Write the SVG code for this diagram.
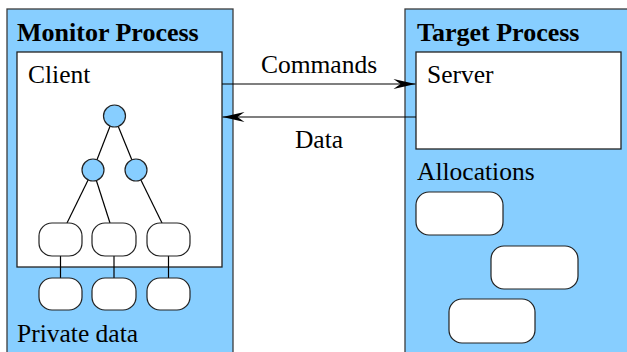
<svg xmlns="http://www.w3.org/2000/svg" width="627" height="352" viewBox="0 0 627 352">
<defs>
<style>
.panel{fill:#87CEFF;stroke:#3c3c3c;stroke-width:1.3}
.box{fill:#fff;stroke:#222;stroke-width:1.3}
.leaf{fill:#fff;stroke:#222;stroke-width:1.2}
.dot{fill:#87CEFF;stroke:#222;stroke-width:1.2}
.edge{stroke:#000;stroke-width:1.2;fill:none}
.title{font-family:"Liberation Serif","Times New Roman",serif;font-weight:bold;font-size:26px;fill:#000}
.lbl{font-family:"Liberation Serif","Times New Roman",serif;font-size:25.5px;fill:#000}
</style>
<marker id="ah" viewBox="-23 -6 24 12" refX="0" refY="0" markerWidth="24" markerHeight="12" markerUnits="userSpaceOnUse" orient="auto">
<path d="M0,0 L-22,-5 L-15,0 L-22,5 Z" fill="#000"/>
</marker>
</defs>

<g id="monitor-process">
<rect class="panel" x="7" y="9" width="226" height="360"/>
<text class="title" x="17" y="41">Monitor Process</text>
<text class="lbl" x="17" y="342">Private data</text>
</g>

<g id="client">
<rect class="box" x="17" y="52" width="205" height="215"/>
<text class="lbl" x="28" y="83">Client</text>
</g>

<g id="tree-edges">
<line class="edge" x1="114" y1="116" x2="93" y2="170"/>
<line class="edge" x1="114" y1="116" x2="136" y2="170"/>
<line class="edge" x1="93" y1="170" x2="67" y2="223"/>
<line class="edge" x1="93" y1="170" x2="110" y2="223"/>
<line class="edge" x1="136" y1="170" x2="162" y2="223"/>
<line class="edge" x1="60.5" y1="256" x2="60.5" y2="278"/>
<line class="edge" x1="114" y1="256" x2="114" y2="278"/>
<line class="edge" x1="168.5" y1="256" x2="168.5" y2="278"/>
</g>

<g id="tree-root"><circle class="dot" cx="114.5" cy="116" r="11"/></g>
<g id="tree-mid-left"><circle class="dot" cx="93" cy="170" r="11"/></g>
<g id="tree-mid-right"><circle class="dot" cx="136" cy="170" r="11"/></g>
<g id="leaf-1"><rect class="leaf" x="39" y="223" width="43" height="33" rx="13"/></g>
<g id="leaf-2"><rect class="leaf" x="92" y="223" width="44" height="33" rx="13"/></g>
<g id="leaf-3"><rect class="leaf" x="147" y="223" width="43" height="33" rx="13"/></g>
<g id="private-1"><rect class="leaf" x="39" y="278" width="43" height="32" rx="13"/></g>
<g id="private-2"><rect class="leaf" x="92" y="278" width="44" height="32" rx="13"/></g>
<g id="private-3"><rect class="leaf" x="147" y="278" width="43" height="32" rx="13"/></g>

<g id="target-process">
<rect class="panel" x="405" y="9" width="240" height="360"/>
<text class="title" x="417" y="41">Target Process</text>
<text class="lbl" x="417" y="180">Allocations</text>
</g>

<g id="server">
<rect class="box" x="416" y="52" width="205" height="97"/>
<text class="lbl" x="427" y="83">Server</text>
</g>

<g id="alloc-1"><rect class="leaf" x="416" y="192" width="87" height="43" rx="13"/></g>
<g id="alloc-2"><rect class="leaf" x="491" y="246" width="87" height="43" rx="13"/></g>
<g id="alloc-3"><rect class="leaf" x="449" y="299" width="86" height="44" rx="13"/></g>

<g id="connectors">
<line class="edge" x1="222" y1="84" x2="415.5" y2="84" marker-end="url(#ah)"/>
<line class="edge" x1="416" y1="117" x2="222.5" y2="117" marker-end="url(#ah)"/>
<text class="lbl" x="319" y="73" text-anchor="middle">Commands</text>
<text class="lbl" x="319" y="148" text-anchor="middle">Data</text>
</g>
</svg>
